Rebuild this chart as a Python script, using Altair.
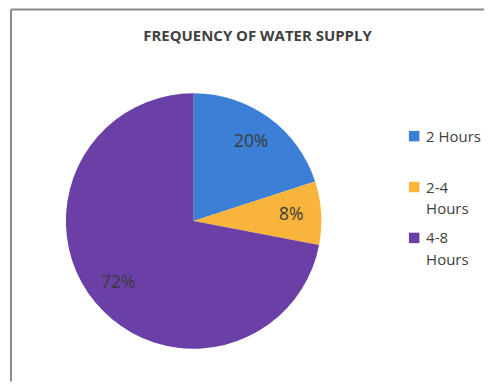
import altair as alt
import pandas as pd

categories = ["2 Hours", "2-4 Hours", "4-8 Hours"]
legend_lines = [["2 Hours"], ["2-4", "Hours"], ["4-8", "Hours"]]
values = [20, 8, 72]
labels = ["20%", "8%", "72%"]
colors = ["#3B80D6", "#F9B43C", "#6A40A6"]
title_text = "FREQUENCY OF WATER SUPPLY"

df = pd.DataFrame({"cat": categories, "val": values, "lab": labels, "ord": [0, 1, 2]})
leg = pd.DataFrame({"cat": categories, "lines": legend_lines})

color_scale = alt.Scale(domain=categories, range=colors)

base = alt.Chart(df).encode(
    theta=alt.Theta("val:Q", stack=True),
    order=alt.Order("ord:Q"),
)

pie = base.mark_arc(outerRadius=128).encode(
    color=alt.Color("cat:N", scale=color_scale, legend=None),
    x=alt.value(186),
    y=alt.value(212),
)

text = base.mark_text(radius=98, font="Open Sans", fontSize=17.5, color="#3a3a3a").encode(
    text="lab:N",
    x=alt.value(186),
    y=alt.value(212),
)

leg_y = alt.Y("cat:N", axis=None,
              scale=alt.Scale(domain=categories, range=[127, 229], padding=0))

leg_sym = alt.Chart(leg).mark_square(size=110, opacity=1).encode(
    x=alt.value(407),
    y=leg_y,
    color=alt.Color("cat:N", scale=color_scale, legend=None),
)

leg_txt = alt.Chart(leg).mark_text(
    align="left", baseline="alphabetic", dy=5.5, font="Open Sans", fontSize=15,
    lineHeight=22, color="#404040"
).encode(
    x=alt.value(419),
    y=leg_y,
    text="lines",
)

title = alt.Chart(pd.DataFrame({"t": [title_text]})).mark_text(
    font="Open Sans", fontSize=15, fontWeight="bold", color="#404040"
).encode(text="t:N", x=alt.value(250), y=alt.value(27))

frame_top = alt.Chart(pd.DataFrame({"k": [0]})).mark_rule(color="#8a8a8a", strokeWidth=2).encode(
    x=alt.value(3), x2=alt.value(477), y=alt.value(0)
)
frame_left = alt.Chart(pd.DataFrame({"k": [0]})).mark_rule(color="#8a8a8a", strokeWidth=2).encode(
    x=alt.value(3), y=alt.value(0), y2=alt.value(373)
)

chart = alt.layer(frame_top, frame_left, pie, text, leg_sym, leg_txt, title).properties(
    width=477, height=373, padding=0
).configure_view(stroke=None)

chart.save("out.html", embed_options={"renderer": "svg", "actions": False})
